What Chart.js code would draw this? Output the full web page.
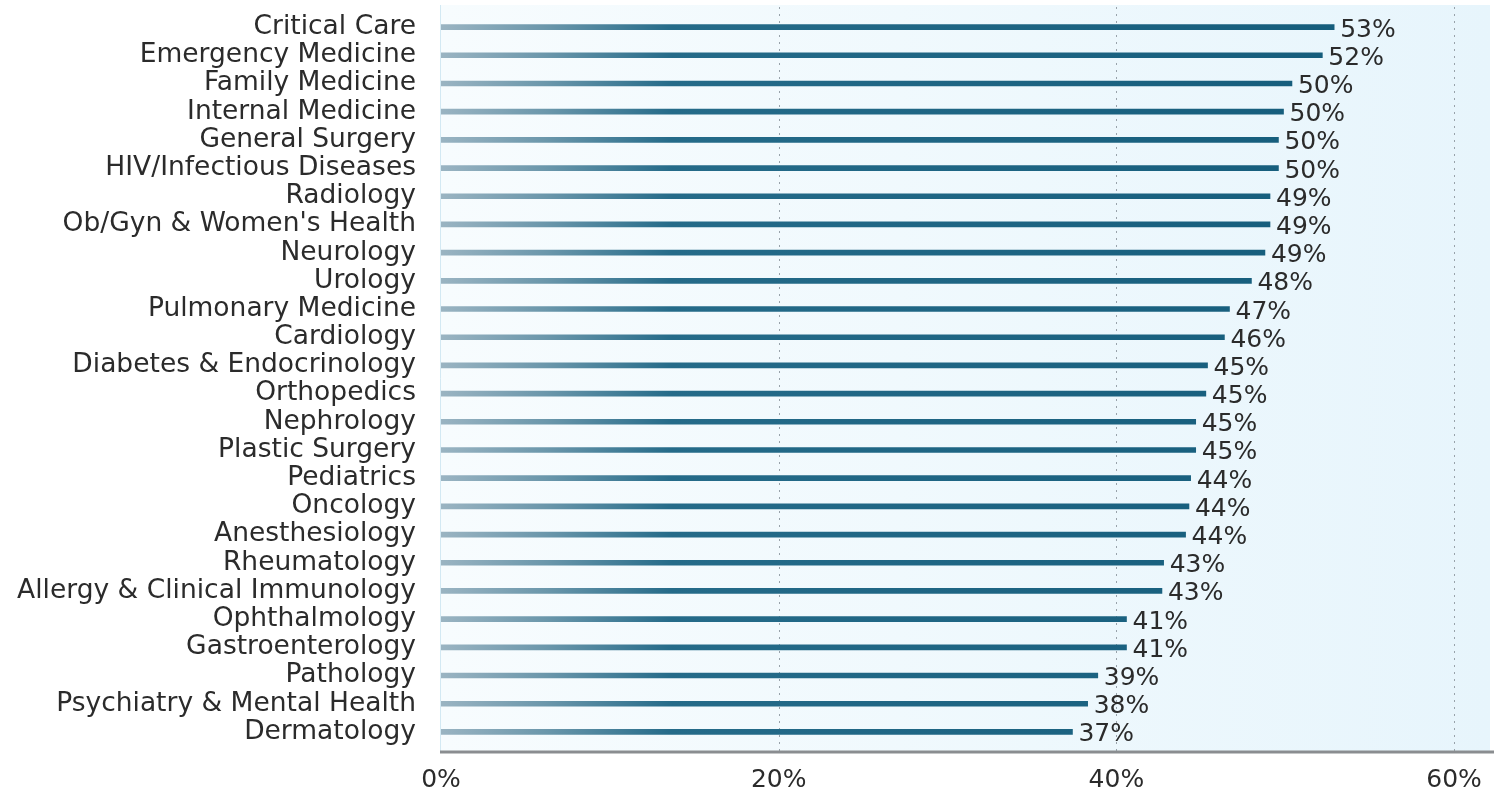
<!DOCTYPE html>
<html>
<head>
<meta charset="utf-8">
<script src="https://cdn.jsdelivr.net/npm/chart.js@4/dist/chart.umd.min.js"></script>
<style>
  html, body { margin: 0; padding: 0; background: #ffffff; }
  #wrap { width: 1494px; height: 790px; }
</style>
</head>
<body>
<div id="wrap"><canvas id="chart" width="1494" height="790"></canvas></div>
<script>
// Share of respondents by specialty (percent)
const specialties = [
  'Critical Care', 'Emergency Medicine', 'Family Medicine', 'Internal Medicine',
  'General Surgery', 'HIV/Infectious Diseases', 'Radiology', "Ob/Gyn & Women's Health",
  'Neurology', 'Urology', 'Pulmonary Medicine', 'Cardiology',
  'Diabetes & Endocrinology', 'Orthopedics', 'Nephrology', 'Plastic Surgery',
  'Pediatrics', 'Oncology', 'Anesthesiology', 'Rheumatology',
  'Allergy & Clinical Immunology', 'Ophthalmology', 'Gastroenterology', 'Pathology',
  'Psychiatry & Mental Health', 'Dermatology'
];
const shares = [
  52.9, 52.2, 50.4, 49.9,
  49.6, 49.6, 49.1, 49.1,
  48.8, 48.0, 46.7, 46.4,
  45.4, 45.3, 44.7, 44.7,
  44.4, 44.3, 44.1, 42.8,
  42.7, 40.6, 40.6, 38.9,
  38.3, 37.4
];
const tickValues = [0, 20, 40, 60];
const gridValues = [20, 40, 60];

const FONT = "'DejaVu Sans', sans-serif";
const TEXT = '#2b2b2b';

// Panel background, dotted grid and heavy baseline
const panelPlugin = {
  id: 'panel',
  beforeDraw(chart) {
    const { ctx, chartArea: a, scales: { x } } = chart;
    const top = a.top - 8, bottom = a.bottom + 6;
    ctx.save();
    const bg = ctx.createLinearGradient(a.left, 0, a.right, 0);
    bg.addColorStop(0, '#f7fcfe');
    bg.addColorStop(1, '#e7f5fc');
    ctx.fillStyle = bg;
    ctx.fillRect(a.left - 1, top, a.right - a.left + 1, bottom - top);

    ctx.strokeStyle = '#d3e9f3';
    ctx.lineWidth = 1;
    ctx.beginPath();
    ctx.moveTo(a.left - 0.5, top);
    ctx.lineTo(a.left - 0.5, bottom);
    ctx.stroke();

    ctx.strokeStyle = '#98a2aa';
    ctx.setLineDash([2, 5]);
    gridValues.forEach(v => {
      const px = Math.round(x.getPixelForValue(v)) + 0.5;
      ctx.beginPath();
      ctx.moveTo(px, top + 2);
      ctx.lineTo(px, bottom);
      ctx.stroke();
    });
    ctx.setLineDash([]);

    ctx.strokeStyle = '#8a8d90';
    ctx.lineWidth = 3;
    ctx.beginPath();
    ctx.moveTo(a.left - 1, bottom);
    ctx.lineTo(chart.width, bottom);
    ctx.stroke();
    ctx.restore();
  }
};

// Percentage printed just past the end of each bar
const valueLabels = {
  id: 'valueLabels',
  afterDatasetsDraw(chart) {
    const { ctx } = chart;
    const meta = chart.getDatasetMeta(0);
    ctx.save();
    ctx.font = '25px ' + FONT;
    ctx.fillStyle = TEXT;
    ctx.textAlign = 'left';
    ctx.textBaseline = 'middle';
    meta.data.forEach((bar, i) => {
      ctx.fillText(Math.round(shares[i]) + '%', bar.x + 6, bar.y + 3);
    });
    ctx.restore();
  }
};

function barGradient(context) {
  const { chart } = context;
  const a = chart.chartArea;
  if (!a) return '#1d6585';
  const g = chart.ctx.createLinearGradient(a.left, 0, a.right, 0);
  g.addColorStop(0, '#9ab4c2');
  g.addColorStop(0.1, '#6b97ab');
  g.addColorStop(0.22, '#256b89');
  g.addColorStop(1, '#125a79');
  return g;
}

new Chart(document.getElementById('chart'), {
  type: 'bar',
  data: {
    labels: specialties,
    datasets: [{
      data: shares,
      backgroundColor: barGradient,
      borderWidth: 0,
      barThickness: 5
    }]
  },
  options: {
    responsive: false,
    animation: false,
    devicePixelRatio: 1,
    indexAxis: 'y',
    layout: { padding: { top: 13, right: 4, left: 0, bottom: 0 } },
    plugins: {
      legend: { display: false },
      tooltip: { enabled: false }
    },
    scales: {
      x: {
        type: 'linear',
        min: 0,
        max: 62.13,
        afterBuildTicks: s => { s.ticks = tickValues.map(v => ({ value: v })); },
        afterFit: s => {
          s.height = 44;
          s.paddingLeft = 0; s.paddingRight = 0;
          s.paddingTop = 0; s.paddingBottom = 0;
        },
        grid: { display: false, drawTicks: false },
        border: { display: false },
        ticks: {
          font: { family: FONT, size: 25 },
          color: TEXT,
          padding: 19,
          maxRotation: 0,
          callback: v => v + '%'
        }
      },
      y: {
        type: 'category',
        offset: true,
        afterFit: s => {
          s.width = 441;
          s.paddingLeft = 0; s.paddingRight = 0;
          s.paddingTop = 0; s.paddingBottom = 0;
        },
        grid: { display: false, drawTicks: false },
        border: { display: false },
        ticks: {
          font: { family: FONT, size: 26.5 },
          color: TEXT,
          padding: 25,
          autoSkip: false
        }
      }
    }
  },
  plugins: [panelPlugin, valueLabels]
});
</script>
</body>
</html>
